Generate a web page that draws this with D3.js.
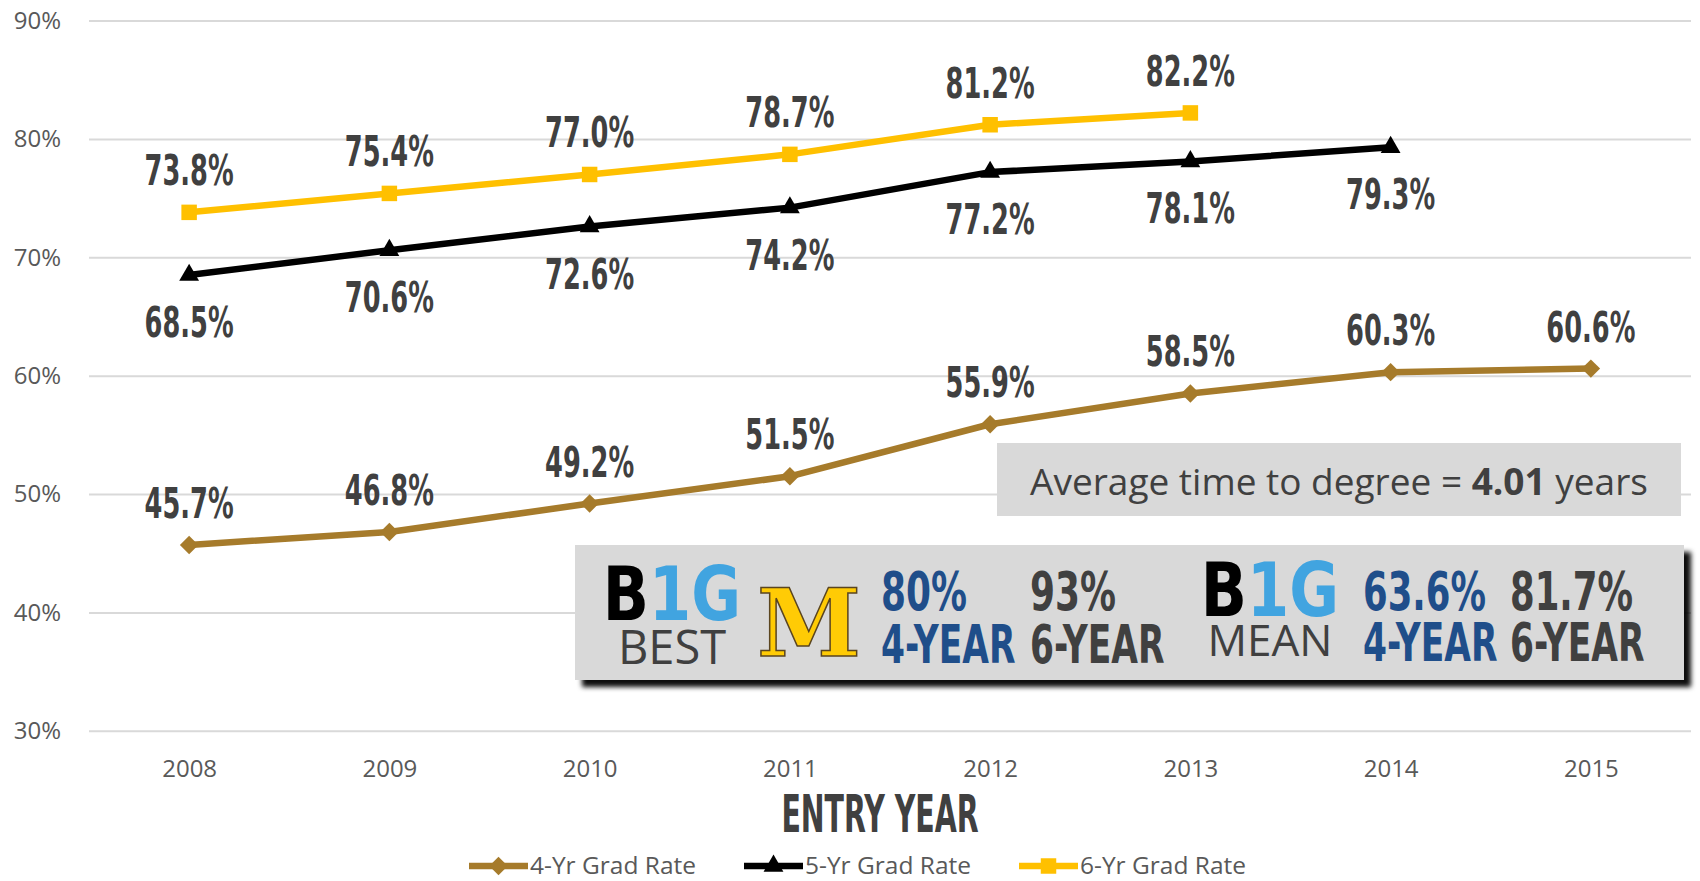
<!DOCTYPE html>
<title>Graduation rates by entry year</title>
<style type="text/css">
	body { margin: 0; background: #fff; }
	.grid line { stroke: #d9d9d9; stroke-width: 2px; }
	.axis text { font-family: "Open Sans", sans-serif; font-size: 24px; fill: #595959; }
	.legend text { font-family: "Open Sans", sans-serif; font-size: 24.5px; fill: #595959; }
</style>
<body>
<script src="https://d3js.org/d3.v7.min.js"></script>
<script type="text/javascript">
	// data
	const years = ['2008', '2009', '2010', '2011', '2012', '2013', '2014', '2015'];
	const rate4 = [45.7, 46.8, 49.2, 51.5, 55.9, 58.5, 60.3, 60.6];
	const rate5 = [68.5, 70.6, 72.6, 74.2, 77.2, 78.1, 79.3];
	const rate6 = [73.8, 75.4, 77.0, 78.7, 81.2, 82.2];
	const yTicks = [30, 40, 50, 60, 70, 80, 90];
	const seriesNames = ['4-Yr Grad Rate', '5-Yr Grad Rate', '6-Yr Grad Rate'];
	const xTitle = 'ENTRY YEAR';

	const W = 1700, H = 881;
	const COND = '"DejaVu Sans Condensed", "DejaVu Sans", sans-serif';
	const LABEL = '#404040';
	const BLUE = '#1f4e8a';

	const series = [
		{ name: seriesNames[0], values: rate4, color: '#a67b2b', symbol: 'diamond', labelPos: 'above' },
		{ name: seriesNames[1], values: rate5, color: '#000000', symbol: 'triangle', labelPos: 'below' },
		{ name: seriesNames[2], values: rate6, color: '#ffc000', symbol: 'square', labelPos: 'above' }
	];

	const svg = d3.select('body').append('svg')
		.attr('width', W)
		.attr('height', H);

	const defs = svg.append('defs');
	const shadow = defs.append('filter').attr('id', 'shadow')
		.attr('x', '-5%').attr('y', '-20%').attr('width', '115%').attr('height', '150%');
	shadow.append('feDropShadow')
		.attr('dx', 7).attr('dy', 7).attr('stdDeviation', 2.5)
		.attr('flood-color', '#000').attr('flood-opacity', 0.95);

	const x = d3.scalePoint().domain(years).range([89, 1691]).padding(0.5);
	const y = d3.scaleLinear().domain([30, 90]).range([730.8, 20.6]);

	// gridlines + y labels
	svg.append('g')
		.attr('class', 'grid axis')
		.attr('transform', 'translate(89,0)')
		.call(d3.axisLeft(y).tickValues(yTicks).tickSize(-(1691 - 89)).tickPadding(28).tickFormat(d => d + '%'))
		.call(g => g.select('.domain').remove());

	// x labels
	svg.append('g')
		.attr('class', 'axis')
		.attr('transform', `translate(0,${y(30)})`)
		.call(d3.axisBottom(x).tickSize(0).tickPadding(29))
		.call(g => g.select('.domain').remove());

	// condensed bold text helper (squeezed horizontally to look like Impact)
	function condText(sel, px, py, str, size, sx, fill, anchor) {
		const g = sel.append('g').attr('transform', `translate(${px},${py}) scale(${sx},1)`);
		return g.append('text')
			.attr('text-anchor', anchor || 'middle')
			.style('font-family', COND)
			.style('font-weight', 700)
			.style('font-size', size + 'px')
			.attr('fill', fill)
			.text(str);
	}

	function symbolPath(type) {
		if (type === 'diamond') return d3.symbol(d3.symbolSquare, 170)();
		if (type === 'triangle') return d3.symbol(d3.symbolTriangle, 170)();
		return d3.symbol(d3.symbolSquare, 240)();
	}
	function symbolRotate(type) {
		return type === 'diamond' ? ' rotate(45)' : '';
	}

	const line = d3.line()
		.x((d, i) => x(years[i]))
		.y(d => y(d));

	series.forEach(s => {
		const g = svg.append('g').attr('class', 'series');
		g.append('path')
			.attr('d', line(s.values))
			.attr('fill', 'none')
			.attr('stroke', s.color)
			.attr('stroke-width', 6.5)
			.attr('stroke-linejoin', 'round');
		g.selectAll('.pt').data(s.values).enter()
			.append('path')
			.attr('class', 'pt')
			.attr('d', symbolPath(s.symbol))
			.attr('fill', s.color)
			.attr('transform', (d, i) => `translate(${x(years[i])},${y(d)})${symbolRotate(s.symbol)}`);
	});

	// data labels
	series.forEach(s => {
		const lg = svg.append('g').attr('class', 'labels');
		s.values.forEach((v, i) => {
			const py = s.labelPos === 'above' ? y(v) - 27 : y(v) + 62;
			condText(lg, x(years[i]), py, v.toFixed(1) + '%', 42, 0.68, LABEL);
		});
	});

	// axis title
	condText(svg, 880, 832, xTitle, 51, 0.62, LABEL);

	// legend
	const legend = svg.append('g').attr('class', 'legend');
	series.forEach((s, i) => {
		const lx = 469 + i * 275;
		const ly = 866;
		const item = legend.append('g');
		item.append('line')
			.attr('x1', lx).attr('x2', lx + 59)
			.attr('y1', ly).attr('y2', ly)
			.attr('stroke', s.color).attr('stroke-width', 6.5);
		item.append('path')
			.attr('d', symbolPath(s.symbol))
			.attr('fill', s.color)
			.attr('transform', `translate(${lx + 29.5},${ly})${symbolRotate(s.symbol)}`);
		item.append('text')
			.attr('x', lx + 61)
			.attr('y', ly + 7.5)
			.text(s.name);
	});

	// average time box
	const avg = svg.append('g');
	avg.append('rect')
		.attr('x', 997).attr('y', 443).attr('width', 684).attr('height', 73)
		.attr('fill', '#d9d9d9');
	const avgText = avg.append('text')
		.attr('x', 1339).attr('y', 495)
		.attr('text-anchor', 'middle')
		.style('font-family', '"Open Sans", sans-serif')
		.style('font-size', '37px')
		.attr('fill', LABEL);
	avgText.append('tspan').text('Average time to degree = ');
	avgText.append('tspan').style('font-weight', 700).text('4.01');
	avgText.append('tspan').text(' years');

	// Big Ten panel
	const panel = svg.append('g');
	panel.append('rect')
		.attr('x', 575).attr('y', 545).attr('width', 1109).attr('height', 135)
		.attr('fill', '#d9d9d9')
		.attr('filter', 'url(#shadow)');

	function b1g(cx, by) {
		const g = panel.append('g').attr('transform', `translate(${cx},${by}) scale(0.82,1)`);
		const t = g.append('text')
			.attr('text-anchor', 'middle')
			.style('font-family', '"DejaVu Sans", sans-serif')
			.style('font-weight', 700)
			.style('font-size', '74px');
		t.append('tspan').attr('fill', '#000').text('B');
		t.append('tspan').attr('fill', '#41a4e0').text('1G');
	}
	b1g(672, 620);
	b1g(1270, 616);

	panel.append('text')
		.attr('x', 672).attr('y', 664)
		.attr('text-anchor', 'middle')
		.style('font-family', '"Open Sans", sans-serif')
		.style('font-size', '47px')
		.attr('fill', LABEL)
		.text('BEST');
	panel.append('text')
		.attr('x', 1270).attr('y', 656)
		.attr('text-anchor', 'middle')
		.style('font-family', '"Open Sans", sans-serif')
		.style('font-size', '44px')
		.attr('fill', LABEL)
		.text('MEAN');

	// block M
	panel.append('text')
		.attr('x', 809).attr('y', 656)
		.attr('text-anchor', 'middle')
		.style('font-family', '"DejaVu Serif", serif')
		.style('font-weight', 700)
		.style('font-size', '94px')
		.attr('fill', '#ffcb05')
		.attr('stroke', '#5a4520')
		.attr('stroke-width', 1.5)
		.text('M');

	condText(panel, 881, 610, '80%', 54, 0.74, BLUE, 'start');
	condText(panel, 881, 663, '4-YEAR', 54, 0.71, BLUE, 'start');
	condText(panel, 1030, 610, '93%', 54, 0.74, LABEL, 'start');
	condText(panel, 1030, 663, '6-YEAR', 54, 0.71, LABEL, 'start');
	condText(panel, 1363, 610, '63.6%', 54, 0.73, BLUE, 'start');
	condText(panel, 1363, 661, '4-YEAR', 54, 0.71, BLUE, 'start');
	condText(panel, 1510, 610, '81.7%', 54, 0.73, LABEL, 'start');
	condText(panel, 1510, 661, '6-YEAR', 54, 0.71, LABEL, 'start');
</script>
</body>
